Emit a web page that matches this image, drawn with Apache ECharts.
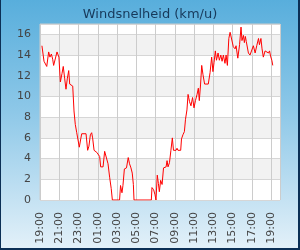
<!DOCTYPE html>
<html>
<head>
<meta charset="utf-8">
<script src="https://cdn.jsdelivr.net/npm/echarts@6/dist/echarts.min.js"></script>
<style>
html,body{margin:0;padding:0;}
#wrap{position:relative;width:300px;height:250px;background:linear-gradient(to bottom,#58aedc 0%,#8ec8e8 45%,#e4f1f9 100%);}
#chart{position:absolute;left:0;top:0;width:300px;height:250px;}
#frame{position:absolute;left:0;top:0;width:300px;height:250px;box-sizing:border-box;border-left:1px solid #0b2f55;border-right:2px solid #0b2f55;border-bottom:2px solid #0b2f55;pointer-events:none;}
</style>
</head>
<body>
<div id="wrap"><div id="chart"></div><div id="frame"></div></div>
<script>
var titleText = 'Windsnelheid (km/u)';
var times = ['19:12','19:25','19:33','19:42','19:54','20:02','20:11','20:19','20:25','20:36','20:46','20:52','20:58','21:07','21:17','21:25','21:34','21:42','21:50','21:59','22:05','22:15','22:24','22:32','22:40','22:49','22:57','23:05','23:14','23:20','23:47','23:57','00:05','00:14','00:22','00:28','00:37','00:45','00:54','01:02','01:12','01:18','01:33','01:43','01:53','02:04','02:14','02:24','02:31','03:16','03:22','03:31','03:37','03:46','03:59','04:10','04:18','04:27','04:35','04:42','04:46','06:34','06:38','06:48','06:57','07:03','07:11','07:18','07:24','07:32','07:41','07:50','08:06','08:12','08:18','08:27','08:36','08:45','08:52','09:08','09:14','09:20','09:37','09:42','09:51','10:00','10:07','10:16','10:23','10:32','10:41','10:51','11:00','11:09','11:19','11:27','11:33','11:41','11:48','11:56','12:06','12:29','12:40','12:50','12:58','13:05','13:13','13:20','13:30','13:38','13:47','13:55','14:03','14:13','14:20','14:28','14:37','14:45','14:56','15:05','15:16','15:22','15:33','15:44','15:53','15:59','16:08','16:14','16:20','16:26','16:39','16:49','17:00','17:10','17:21','17:31','17:42','17:48','17:57','18:04','18:12','18:23','18:33','18:44','18:51','18:57','19:05','19:11'];
var speeds = [14.9,13.4,13.3,12.9,14.3,13.8,14.1,13.6,13.0,13.0,14.3,14.3,13.8,11.4,12.2,12.9,11.7,10.7,11.7,12.5,11.2,11.2,11.0,8.6,7.3,6.5,6.4,5.1,5.9,6.4,6.4,4.8,5.2,6.3,6.5,6.0,4.8,4.7,4.6,4.6,4.2,3.2,3.2,4.7,4.7,3.5,2.2,1.1,0,0,1.4,0.7,1.4,3.0,3.1,4.1,3.5,3.1,2.6,1.5,0,0,1.2,1.0,0.5,0,2.4,1.6,0.8,1.9,1.5,3.1,3.2,3.8,3.2,3.6,4.8,6.0,4.8,4.8,5.0,4.8,4.8,5.9,6.3,6.6,7.8,8.7,10.2,9.5,9.1,9.9,8.9,9.6,10.2,10.8,9.6,11.2,13.0,12.1,11.2,11.2,12.3,13.8,12.4,13.3,14.4,13.5,14.2,13.5,14.0,13.4,14.0,13.2,14.0,13.0,15.6,16.2,16.2,14.8,14.6,14.9,13.7,15.0,16.7,15.4,15.9,15.2,15.8,15.3,14.2,14.0,13.9,14.9,14.2,14.9,15.6,15.0,15.6,14.6,13.8,14.4,14.3,14.2,14.4,13.9,13.5,13.0];
var startHour = 19;
var yTicks = [0,2,4,6,8,10,12,14,16];

// convert clock strings to minutes since start (19:00), rolling over midnight
var data = [];
var prev = -1, dayOff = 0;
for (var i = 0; i < times.length; i++) {
  var p = times[i].split(':');
  var m = (+p[0]) * 60 + (+p[1]) - startHour * 60;
  if (m < 0) m += 1440;
  m += dayOff;
  if (m <= prev) { dayOff += 1440; m += 1440; }
  prev = m;
  data.push([m, speeds[i]]);
}

var chart = echarts.init(document.getElementById('chart'), null, {renderer: 'canvas'});
chart.setOption({
  backgroundColor: 'transparent',
  animation: false,
  textStyle: {fontFamily: 'DejaVu Sans'},
  title: {
    text: titleText, left: 'center', top: 3,
    textStyle: {fontFamily: 'DejaVu Sans', fontSize: 13, fontWeight: 'normal', color: '#17395a'}
  },
  grid: {left: 40, right: 20, top: 24, bottom: 50, show: true, backgroundColor: '#ffffff', borderColor: '#cccccc', borderWidth: 1},
  xAxis: {
    type: 'value', min: 0, max: 1496, interval: 120,
    axisLine: {show: false}, axisTick: {show: false},
    splitLine: {show: true, lineStyle: {color: '#cccccc', width: 1}},
    axisLabel: {
      rotate: 90, margin: 12, fontSize: 11, color: '#444', showMaxLabel: false, fontFamily: 'DejaVu Sans',
      formatter: function (v) { var h = (startHour + Math.round(v / 60)) % 24; return (h < 10 ? '0' : '') + h + ':00'; }
    }
  },
  yAxis: {
    type: 'value', min: 0, max: 17, interval: 2,
    axisLine: {show: false}, axisTick: {show: false},
    splitLine: {show: true, lineStyle: {color: '#d6d6d6', width: 1}},
    splitArea: {show: true, areaStyle: {color: ['#ffffff', '#f2f2f2']}},
    axisLabel: {
      margin: 9, fontSize: 11, color: '#444', fontFamily: 'DejaVu Sans',
      formatter: function (v) { return yTicks.indexOf(v) >= 0 ? String(v) : ''; }
    }
  },
  series: [{
    type: 'line', data: data, showSymbol: false, symbol: 'none',
    lineStyle: {color: '#ff0000', width: 1}, itemStyle: {color: '#ff0000'}
  }]
});
</script>
</body>
</html>
